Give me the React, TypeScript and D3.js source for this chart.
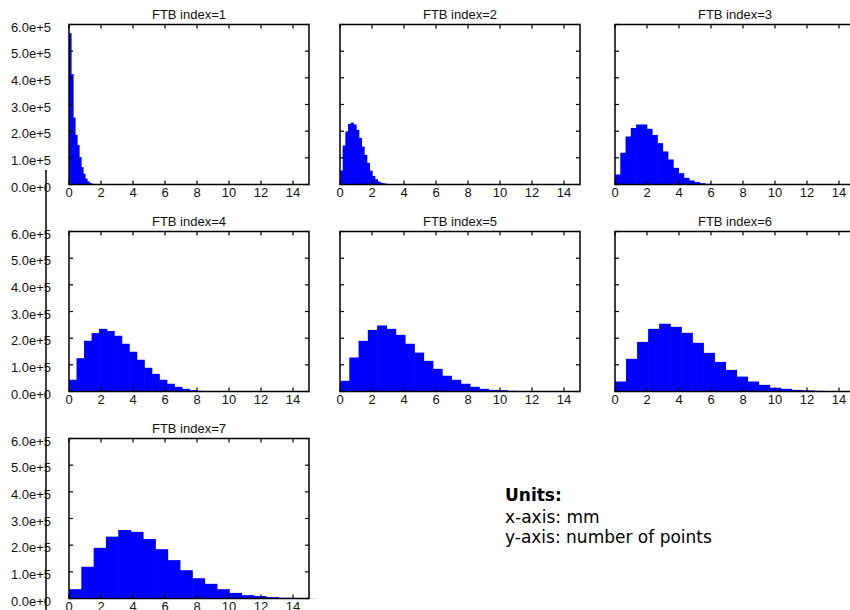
import * as d3 from 'd3'

// histogram counts per FTB index (20 bins each)
const titles = ['FTB index=1', 'FTB index=2', 'FTB index=3', 'FTB index=4', 'FTB index=5', 'FTB index=6', 'FTB index=7']
const binWidths = [0.125, 0.167, 0.33, 0.47, 0.58, 0.69, 0.77]

const counts1 = [567000, 414000, 251000, 186000, 148000, 103000, 65000, 40000, 22000, 12000, 6000, 3000, 1500, 800, 400, 200, 100, 50, 20, 10]
const counts2 = [52500, 146000, 199000, 227000, 232000, 225000, 205000, 175000, 142000, 111000, 81000, 52000, 32000, 20000, 11000, 6000, 4000, 2500, 1200, 500]
const counts3 = [37500, 119000, 180000, 212000, 225000, 225000, 209000, 186000, 155000, 124000, 94000, 62500, 42500, 25000, 15000, 9000, 5000, 2500, 1200, 500]
const counts4 = [44000, 125000, 190000, 219000, 235000, 227000, 209000, 179000, 149000, 119000, 89000, 66000, 44000, 29000, 17500, 10000, 5000, 2500, 1200, 500]
const counts5 = [40000, 127500, 190000, 231000, 247500, 235000, 212500, 179000, 146000, 115000, 85000, 59000, 44000, 29000, 17500, 10000, 6000, 5000, 2500, 1200]
const counts6 = [37500, 122500, 186000, 235000, 254000, 242500, 220000, 182500, 145000, 111000, 81000, 56000, 37500, 25000, 14000, 10000, 6000, 4000, 2500, 1200]
const counts7 = [35000, 119000, 190000, 232000, 257000, 250000, 223000, 185000, 144000, 106000, 76000, 55000, 35000, 21000, 12500, 9000, 5000, 2500, 1500, 600]
const allCounts = [counts1, counts2, counts3, counts4, counts5, counts6, counts7]

const xTicks = [0, 2, 4, 6, 8, 10, 12, 14]
const yTicks = [0, 100000, 200000, 300000, 400000, 500000, 600000]
const yTickLabels = ['0.0e+0', '1.0e+5', '2.0e+5', '3.0e+5', '4.0e+5', '5.0e+5', '6.0e+5']

const unitLines = ['x-axis: mm', 'y-axis: number of points']

const W = 850
const H = 610
const PW = 240
const PH = 160
const colX = [69, 340, 615]
const rowY = [24.5, 231.5, 438.5]
const FONT = 'Liberation Sans, Arial, Helvetica, sans-serif'
const TICK = 4

function Panel({ idx }: { idx: number }) {
  const col = idx % 3
  const row = Math.floor(idx / 3)
  const left = colX[col]
  const top = rowY[row]
  const x = d3.scaleLinear().domain([0, 15]).range([0, PW])
  const y = d3.scaleLinear().domain([0, 600000]).range([PH, 0])
  const w = binWidths[idx]
  const data = allCounts[idx]

  return (
    <g transform={`translate(${left},${top})`}>
      <text x={PW / 2} y={-6} textAnchor="middle" fontFamily={FONT} fontSize={13} fill="#111">
        {titles[idx]}
      </text>
      {data.map((c, i) => {
        const x0 = x(i * w)
        const x1 = x((i + 1) * w)
        return <rect key={i} x={x0} y={y(c)} width={x1 - x0 + 0.6} height={PH - y(c)} fill="#0000ff" />
      })}
      <rect x={0} y={0} width={PW} height={PH} fill="none" stroke="#000" strokeWidth={1.5} />
      {xTicks.map((t) => (
        <g key={'x' + t}>
          <line x1={x(t)} x2={x(t)} y1={PH} y2={PH - TICK} stroke="#000" strokeWidth={1.2} />
          <line x1={x(t)} x2={x(t)} y1={0} y2={TICK} stroke="#000" strokeWidth={1.2} />
          <text x={x(t)} y={PH + 12.5} textAnchor="middle" fontFamily={FONT} fontSize={13} fill="#111">
            {t}
          </text>
        </g>
      ))}
      {yTicks.map((t, i) => (
        <g key={'y' + t}>
          <line x1={0} x2={TICK} y1={y(t)} y2={y(t)} stroke="#000" strokeWidth={1.2} />
          <line x1={PW} x2={PW - TICK} y1={y(t)} y2={y(t)} stroke="#000" strokeWidth={1.2} />
          {col === 0 && (
            <text x={-18} y={y(t) + 7} textAnchor="end" fontFamily={FONT} fontSize={13} fill="#111">
              {yTickLabels[i]}
            </text>
          )}
        </g>
      ))}
    </g>
  )
}

export default function App() {
  return (
    <svg width={W} height={H} style={{ position: 'absolute', left: 0, top: 0, background: '#fff' }}>
      <rect x={0} y={0} width={W} height={H} fill="#fff" />
      {titles.map((_, i) => (
        <Panel key={i} idx={i} />
      ))}
      {/* stray axis line on the left */}
      <line x1={46} x2={46} y1={170} y2={H} stroke="#000" strokeWidth={1.5} />
      <g fontFamily="DejaVu Sans, sans-serif" fontSize={17} fill="#000">
        <text x={505} y={501} fontWeight="bold">Units:</text>
        {unitLines.map((l, i) => (
          <text key={l} x={505} y={522.5 + i * 20.5}>{l}</text>
        ))}
      </g>
    </svg>
  )
}
